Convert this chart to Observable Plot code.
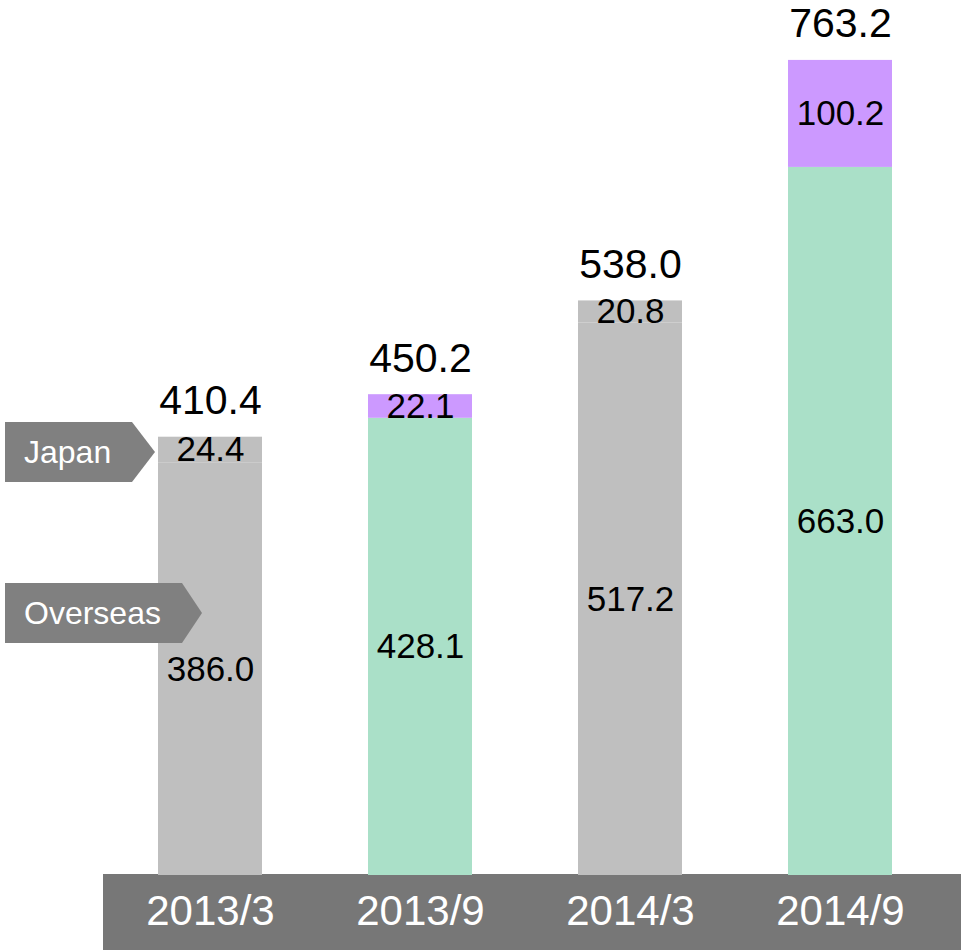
<!DOCTYPE html>
<html><head><meta charset="utf-8">
<script src="https://cdn.jsdelivr.net/npm/d3@7"></script>
<script src="https://cdn.jsdelivr.net/npm/@observablehq/plot@0.6"></script>
<style>
body{margin:0;background:#fff;}
#wrap{position:relative;width:961px;height:950px;font-family:"Liberation Sans",Arial,sans-serif;}
.tag{position:absolute;left:5px;height:60px;background:#808080;color:#fff;font-size:32px;line-height:60px;padding-left:19px;box-sizing:border-box;}
</style></head><body><div id="wrap"></div>
<script>
const periods = ["2013/3", "2013/9", "2014/3", "2014/9"];
const overseas = [386.0, 428.1, 517.2, 663.0];
const japan = [24.4, 22.1, 20.8, 100.2];
const totals = [410.4, 450.2, 538.0, 763.2];
const highlighted = [false, true, false, true];
const segmentLabels = ["Japan", "Overseas"];

const GRAY = "#bfbfbf", GREEN = "#aae0c8", PURPLE = "#cc99ff";
const fmt = d3.format(".1f");

const segments = periods.flatMap((p, i) => [
  {period: p, seg: "Overseas", y1: 0, y2: overseas[i], v: overseas[i], fill: highlighted[i] ? GREEN : GRAY},
  {period: p, seg: "Japan", y1: overseas[i], y2: overseas[i] + japan[i], v: japan[i], fill: highlighted[i] ? PURPLE : GRAY}
]);
const totalRows = periods.map((p, i) => ({period: p, total: totals[i]}));
const separators = periods.map((p, i) => ({period: p, y: overseas[i], show: !highlighted[i]})).filter(d => d.show);

const band = (index, scales, values, dims) => {
  const r = d3.create("svg:rect")
    .attr("x", dims.marginLeft)
    .attr("y", dims.height - dims.marginBottom - 1)
    .attr("width", dims.width - dims.marginLeft)
    .attr("height", dims.marginBottom + 1)
    .attr("fill", "#777777");
  return r.node();
};

const chart = Plot.plot({
  width: 961,
  height: 950,
  marginTop: 0,
  marginBottom: 75,
  marginLeft: 103,
  marginRight: 14,
  style: {fontFamily: "'Liberation Sans', Arial, sans-serif", background: "white"},
  x: {domain: periods, paddingInner: 0.505, paddingOuter: 0.262, label: null},
  y: {domain: [0, 819.3], axis: null},
  color: {type: "identity"},
  marks: [
    band,
    Plot.barY(segments, {x: "period", y1: "y1", y2: "y2", fill: "fill", inset: 0}),
    Plot.ruleY(separators, {x: "period", y: "y", stroke: "white", strokeWidth: 2}),
    Plot.text(segments, {x: "period", y: d => (d.y1 + d.y2) / 2, text: d => fmt(d.v), fontSize: 35, fill: "black"}),
    Plot.text(totalRows, {x: "period", y: "total", text: d => fmt(d.total), fontSize: 41, fill: "black", lineAnchor: "bottom", dy: -23}),
    Plot.axisX({tickSize: 0, tickPadding: 20, fontSize: 42, color: "white", label: null})
  ]
});

const wrap = document.getElementById("wrap");
wrap.appendChild(chart);

const tagDefs = [
  {text: segmentLabels[0], top: 422, width: 150, notch: 23},
  {text: segmentLabels[1], top: 583, width: 197, notch: 20}
];
tagDefs.forEach(t => {
  const el = document.createElement("div");
  el.className = "tag";
  el.textContent = t.text;
  el.style.top = t.top + "px";
  el.style.width = t.width + "px";
  el.style.clipPath = `polygon(0 0, ${t.width - t.notch}px 0, 100% 50%, ${t.width - t.notch}px 100%, 0 100%)`;
  wrap.appendChild(el);
});
</script>
</body></html>
